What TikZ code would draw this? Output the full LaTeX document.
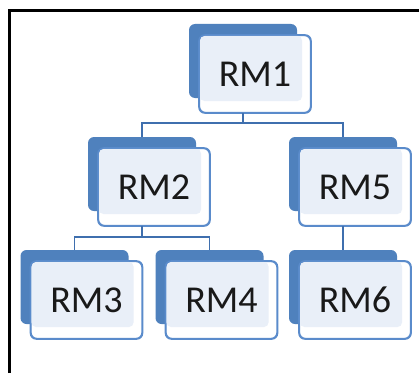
\documentclass[tikz,border=0pt]{standalone}
\usepackage{fontspec}
\setmainfont{Carlito}
\definecolor{backblue}{HTML}{4F81BD}
\definecolor{edgeblue}{HTML}{5A8BCB}
\definecolor{innerfill}{HTML}{E9EFF8}
\definecolor{linkblue}{HTML}{3F6FAE}
\tikzset{
  backbox/.style={rectangle, rounded corners=6pt, minimum width=108pt, minimum height=74pt, fill=backblue, draw=none, inner sep=0pt},
  frontbox/.style={rectangle, rounded corners=6pt, minimum width=111pt, minimum height=77pt, fill=white, draw=edgeblue, line width=1.3pt, inner sep=0pt},
  label/.style={font=\fontsize{38}{40}\selectfont, text=black!90, anchor=base, inner sep=0pt},
  link/.style={draw=linkblue, line width=1.5pt},
  frameline/.style={draw=black, line width=3pt}
}
\newcommand{\rmbox}[4]{%
  \node[backbox] (b#1) at (#2pt,#3pt) {};
  \node[frontbox] (#1) at ([shift={(12pt,-13pt)}]b#1.center) {};
  \fill[innerfill, rounded corners=5pt] ([shift={(1pt,-1pt)}]#1.north west) rectangle ([shift={(-9pt,12pt)}]#1.south east);
  \draw[edgeblue, line width=1.3pt, rounded corners=6pt] (#1.north west) rectangle (#1.south east);
  \node[label] (t#1) at ([yshift=-12.5pt]#1.center) {#4};
}
\begin{document}
\begin{tikzpicture}[x=1pt,y=1pt]
\useasboundingbox (0,0) rectangle (419,373);
\fill[white] (0,0) rectangle (419,373);
\draw[frameline] (9.5,0) -- (9.5,362.5) -- (419,362.5);
\rmbox{RM1}{243}{312}{RM1}
\rmbox{RM2}{142}{199}{RM2}
\rmbox{RM5}{343}{199}{RM5}
\rmbox{RM3}{74.5}{86}{RM3}
\rmbox{RM4}{209.5}{86}{RM4}
\rmbox{RM6}{343}{86}{RM6}
% connectors
\draw[link] (RM1.south -| bRM1.center) -- ++(0,-10) coordinate (j1);
\draw[link] (bRM2.north) |- (j1) -| (bRM5.north);
\draw[link] (RM2.south -| bRM2.center) -- ++(0,-11) coordinate (j2);
\draw[link] (bRM3.north) |- (j2) -| (bRM4.north);
\draw[link] (RM5.south -| bRM5.center) -- (bRM6.north);
\end{tikzpicture}
\end{document}
